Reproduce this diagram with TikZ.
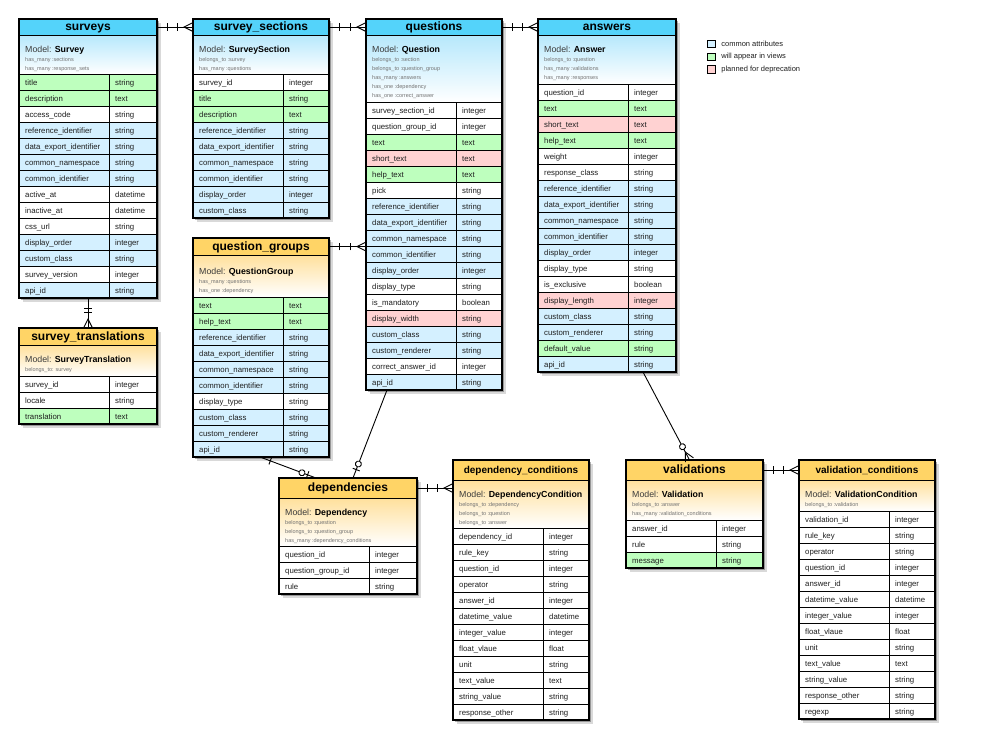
\documentclass[tikz,border=0pt]{standalone}
\usepackage{fontspec}
\setmainfont{Liberation Sans}
\usetikzlibrary{positioning,shadows,decorations.markings}

\definecolor{blueh}{RGB}{84,211,250}
\definecolor{bluem}{RGB}{182,232,252}
\definecolor{orangeh}{RGB}{255,212,102}
\definecolor{orangem}{RGB}{255,224,156}
\definecolor{rowb}{RGB}{212,240,255}
\definecolor{rowg}{RGB}{190,255,190}
\definecolor{rowp}{RGB}{255,210,210}
\definecolor{roww}{RGB}{255,255,255}
\definecolor{txt}{RGB}{30,30,30}
\definecolor{mgray}{RGB}{60,60,60}
\definecolor{rgray}{RGB}{115,115,115}

% crow's foot marks
\newcommand\erbar{\draw[line width=0.9pt] (0,-3.8pt) -- (0,3.8pt);}
\newcommand\ercrow{\draw[line width=0.9pt] (9pt,4.5pt) -- (0,0) -- (9pt,-4.5pt);}
\newcommand\ercirc{\draw[line width=0.9pt, fill=white] (0,0) circle (3pt);}

\tikzset{
  erbox/.style={anchor=north west, inner sep=0pt, outer sep=0pt, fill=white,
    drop shadow={shadow xshift=2pt, shadow yshift=-2pt, fill=black, opacity=0.3},
    drop shadow={shadow xshift=4pt, shadow yshift=-4pt, fill=black, opacity=0.15}},
  erhead/.style={anchor=north west, draw, line width=0.8pt, inner sep=0pt, outer sep=0pt,
    text=black, font=\bfseries\fontsize{12}{14}\selectfont, text height=8.6pt, text depth=1.4pt},
  cell/.style={draw, line width=0.8pt},
  erline/.style={line width=1.3pt},
  celltxt/.style={anchor=base west, inner sep=0pt, text=txt, font=\fontsize{7.8}{9}\selectfont},
  modeltxt/.style={anchor=base west, inner sep=0pt, text=mgray, font=\fontsize{8.8}{10}\selectfont},
  reltxt/.style={anchor=base west, inner sep=0pt, text=rgray, font=\fontsize{5.5}{6}\selectfont},
  legsq/.style={draw, line width=0.8pt, minimum size=7.5pt, inner sep=0pt},
  legtxt/.style={inner sep=0pt, text=txt, font=\fontsize{7.5}{9}\selectfont},
  rel/.style={line width=0.9pt},
  onemany/.style={rel, postaction=decorate, decoration={markings,
      mark=at position 10pt with {\erbar}, mark=at position -16pt with {\erbar},
      mark=at position -9pt with {\ercrow}}},
  barzeroone/.style={rel, postaction=decorate, decoration={markings,
      mark=at position 11pt with {\erbar}, mark=at position -15pt with {\ercirc},
      mark=at position -9pt with {\erbar}}},
  zeroone/.style={rel, postaction=decorate, decoration={markings,
      mark=at position -15pt with {\ercirc}, mark=at position -9pt with {\erbar}}},
  zeromany/.style={rel, postaction=decorate, decoration={markings,
      mark=at position -15pt with {\ercirc}, mark=at position -9pt with {\ercrow}}},
}

% id, x, y, width, height, head height, model height, colour, title
\newcommand\ertable[9]{%
  \node[erbox, minimum width=#4pt, minimum height=#5pt] (#1-box) at (#2,#3) {};
  \node[erhead, fill=#8h, minimum width=#4pt, minimum height=#6pt] (#1) at (#2,#3) {#9};
  \draw[cell, top color=#8m, bottom color=white] (#2,#3+#6) rectangle ++(#4,#7);
}
% id, x, top, model, relations
\newcommand\ermodel[5]{%
  \node[modeltxt] (#1-model) at (#2+6,#3+17) {Model: \textbf{\color{black}#4}};
  \foreach \rel [count=\k from 0] in {#5}
    \node[reltxt] (#1-rel\k) at (#2+6,#3+26+9*\k) {\rel};
}
% id, x, top, first col, second col, rows
\newcommand\errows[6]{%
  \foreach \fld/\typ/\clr [count=\i from 0] in {#6}{
    \draw[cell, fill=row\clr] (#2,#3+16*\i) rectangle ++(#4,16) ++(0,-16) rectangle ++(#5,16);
    \node[celltxt] (#1-f\i) at (#2+6,#3+16*\i+11) {\fld};
    \node[celltxt] (#1-t\i) at (#2+#4+6,#3+16*\i+11) {\typ};
  }
}

\begin{document}
\begin{tikzpicture}[x=1pt, y=-1pt]
  \useasboundingbox (0,0) rectangle (1008,737);

  % surveys
  \ertable{surveys}{19}{19}{138}{279}{16}{39}{blue}{surveys}
  \ermodel{surveys}{19}{35}{Survey}{has\_many :sections, has\_many :response\_sets}
  \errows{surveys}{19}{74}{90}{48}{title/string/g, description/text/g, access\_code/string/w,
    reference\_identifier/string/b, data\_export\_identifier/string/b, common\_namespace/string/b,
    common\_identifier/string/b, active\_at/datetime/w, inactive\_at/datetime/w, css\_url/string/w,
    display\_order/integer/b, custom\_class/string/b, survey\_version/integer/w, api\_id/string/b}
  \draw[erline] (surveys-box.north west) rectangle (surveys-box.south east);

  % survey_sections
  \ertable{sections}{193}{19}{136}{199}{16}{39}{blue}{survey\_sections}
  \ermodel{sections}{193}{35}{SurveySection}{belongs\_to :survey, has\_many :questions}
  \errows{sections}{193}{74}{90}{46}{survey\_id/integer/w, title/string/g, description/text/g,
    reference\_identifier/string/b, data\_export\_identifier/string/b, common\_namespace/string/b,
    common\_identifier/string/b, display\_order/integer/b, custom\_class/string/b}
  \draw[erline] (sections-box.north west) rectangle (sections-box.south east);

  % questions
  \ertable{questions}{366}{19}{136}{371}{16}{67}{blue}{questions}
  \ermodel{questions}{366}{35}{Question}{belongs\_to :section, belongs\_to :question\_group,
    has\_many :answers, has\_one :dependency, has\_one :correct\_answer}
  \errows{questions}{366}{102}{90}{46}{survey\_section\_id/integer/w, question\_group\_id/integer/w,
    text/text/g, short\_text/text/p, help\_text/text/g, pick/string/w,
    reference\_identifier/string/b, data\_export\_identifier/string/b, common\_namespace/string/b,
    common\_identifier/string/b, display\_order/integer/b, display\_type/string/w,
    is\_mandatory/boolean/w, display\_width/string/p, custom\_class/string/b,
    custom\_renderer/string/b, correct\_answer\_id/integer/w, api\_id/string/b}
  \draw[erline] (questions-box.north west) rectangle (questions-box.south east);

  % answers
  \ertable{answers}{538}{19}{138}{353}{16}{49}{blue}{answers}
  \ermodel{answers}{538}{35}{Answer}{belongs\_to :question, has\_many :validations, has\_many :responses}
  \errows{answers}{538}{84}{90}{48}{question\_id/integer/w, text/text/g, short\_text/text/p,
    help\_text/text/g, weight/integer/w, response\_class/string/w,
    reference\_identifier/string/b, data\_export\_identifier/string/b, common\_namespace/string/b,
    common\_identifier/string/b, display\_order/integer/b, display\_type/string/w,
    is\_exclusive/boolean/w, display\_length/integer/p, custom\_class/string/b,
    custom\_renderer/string/b, default\_value/string/g, api\_id/string/b}
  \draw[erline] (answers-box.north west) rectangle (answers-box.south east);

  % survey_translations
  \ertable{translations}{19}{328}{138}{96}{17}{31}{orange}{survey\_translations}
  \ermodel{translations}{19}{345}{SurveyTranslation}{belongs\_to: survey}
  \errows{translations}{19}{376}{90}{48}{survey\_id/integer/w, locale/string/w, translation/text/g}
  \draw[erline] (translations-box.north west) rectangle (translations-box.south east);

  % question_groups
  \ertable{groups}{193}{238}{136}{219}{17}{42}{orange}{question\_groups}
  \ermodel{groups}{193}{257.7}{QuestionGroup}{has\_many :questions, has\_one :dependency}
  \errows{groups}{193}{297}{90}{46}{text/text/g, help\_text/text/g,
    reference\_identifier/string/b, data\_export\_identifier/string/b, common\_namespace/string/b,
    common\_identifier/string/b, display\_type/string/w, custom\_class/string/b,
    custom\_renderer/string/b, api\_id/string/b}
  \draw[erline] (groups-box.north west) rectangle (groups-box.south east);

  % dependencies
  \ertable{dependencies}{279}{478}{138}{116}{20}{48}{orange}{dependencies}
  \ermodel{dependencies}{279}{498}{Dependency}{belongs\_to :question, belongs\_to :question\_group,
    has\_many :dependency\_conditions}
  \errows{dependencies}{279}{546}{90}{48}{question\_id/integer/w, question\_group\_id/integer/w, rule/string/w}
  \draw[erline] (dependencies-box.north west) rectangle (dependencies-box.south east);

  % dependency_conditions
  \ertable{depconds}{453}{460}{136}{260}{20}{48}{orange}{\fontsize{10}{12}\selectfont dependency\_conditions}
  \ermodel{depconds}{453}{480}{DependencyCondition}{belongs\_to :dependency, belongs\_to :question,
    belongs\_to :answer}
  \errows{depconds}{453}{528}{90}{46}{dependency\_id/integer/w, rule\_key/string/w, question\_id/integer/w,
    operator/string/w, answer\_id/integer/w, datetime\_value/datetime/w, integer\_value/integer/w,
    float\_vlaue/float/w, unit/string/w, text\_value/text/w, string\_value/string/w,
    response\_other/string/w}
  \draw[erline] (depconds-box.north west) rectangle (depconds-box.south east);

  % validations
  \ertable{validations}{626}{460}{137}{108}{20}{40}{orange}{validations}
  \ermodel{validations}{626}{480}{Validation}{belongs\_to :answer, has\_many :validation\_conditions}
  \errows{validations}{626}{520}{90}{47}{answer\_id/integer/w, rule/string/w, message/string/g}
  \draw[erline] (validations-box.north west) rectangle (validations-box.south east);

  % validation_conditions
  \ertable{valconds}{799}{460}{136}{259}{20}{31}{orange}{\fontsize{10}{12}\selectfont validation\_conditions}
  \ermodel{valconds}{799}{480}{ValidationCondition}{belongs\_to :validation}
  \errows{valconds}{799}{511}{90}{46}{validation\_id/integer/w, rule\_key/string/w, operator/string/w,
    question\_id/integer/w, answer\_id/integer/w, datetime\_value/datetime/w, integer\_value/integer/w,
    float\_vlaue/float/w, unit/string/w, text\_value/text/w, string\_value/string/w,
    response\_other/string/w, regexp/string/w}
  \draw[erline] (valconds-box.north west) rectangle (valconds-box.south east);

  % legend
  \foreach \clr/\txt [count=\i from 0] in {b/common attributes, g/will appear in views, p/planned for deprecation}{
    \node[legsq, fill=row\clr] (sq\i) at (711.5,44+12.7*\i) {};
    \node[legtxt, right=5.5pt of sq\i] (leg\i) {\txt};
  }

  % relations
  \draw[onemany] (surveys.east) -- (sections.west);
  \draw[onemany] (sections.east) -- (questions.west);
  \draw[onemany] (questions.east) -- (answers.west);
  \draw[onemany] (surveys-box.south) -- (translations.north);
  \draw[onemany] (groups.east) -- (groups.east -| questions-box.west);
  \draw[barzeroone] ([xshift=-1pt]groups-box.south) -- ([xshift=-32pt]dependencies.north);
  \draw[zeroone] ([xshift=-47pt]questions-box.south) -- ([xshift=5pt]dependencies.north);
  \draw[onemany] (dependencies.east) -- (dependencies.east -| depconds-box.west);
  \draw[zeromany] ([xshift=36pt]answers-box.south) -- ([xshift=-5pt]validations.north);
  \draw[onemany] (validations.east) -- (valconds.west);
\end{tikzpicture}
\end{document}
